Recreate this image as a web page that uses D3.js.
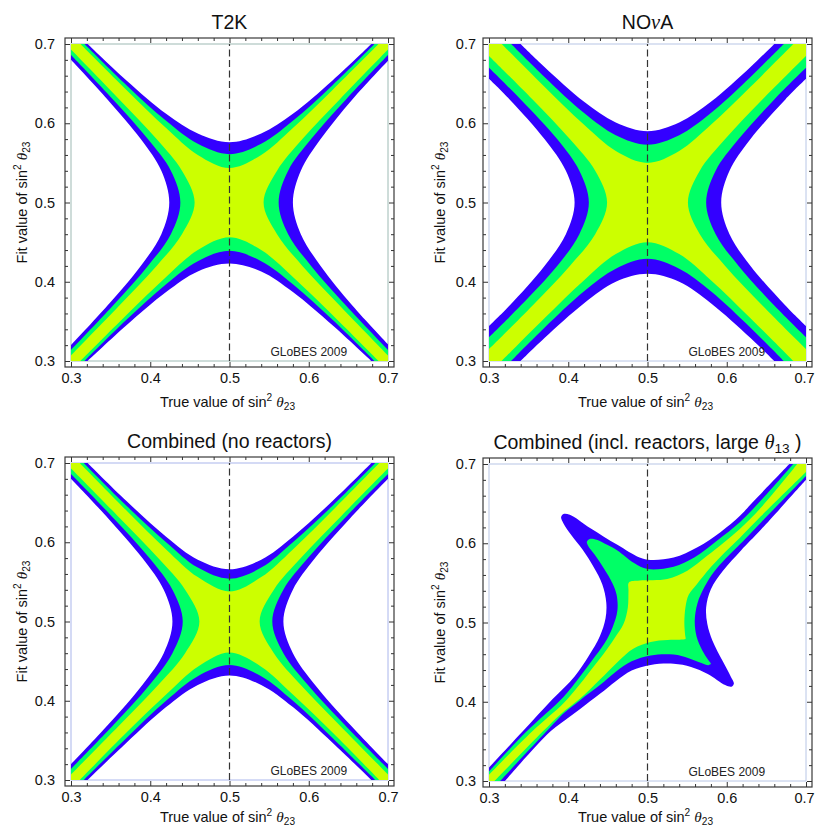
<!DOCTYPE html>
<html>
<head>
<meta charset="utf-8">
<script src="https://cdn.jsdelivr.net/npm/d3@7"></script>
<style>
  body { margin: 0; background: #fff; }
  svg { display: block; }
</style>
</head>
<body>
<script>
// allowed regions in the (true, fit) sin^2 theta23 plane
// each level: [top, right, bottom, left] boundary arcs (x = true, y = fit)

var t2kBlue = [
  [[0.321,0.7],[0.37,0.654],[0.42,0.612],[0.46,0.587],[0.5,0.576],[0.54,0.587],[0.58,0.612],[0.63,0.654],[0.679,0.7]],
  [[0.7,0.679],[0.655,0.63],[0.615,0.58],[0.59,0.54],[0.58,0.5],[0.59,0.46],[0.615,0.42],[0.655,0.37],[0.7,0.321]],
  [[0.679,0.3],[0.63,0.345],[0.58,0.387],[0.54,0.413],[0.5,0.423],[0.46,0.413],[0.42,0.387],[0.37,0.345],[0.321,0.3]],
  [[0.3,0.32],[0.346,0.37],[0.388,0.42],[0.414,0.46],[0.424,0.5],[0.414,0.54],[0.388,0.58],[0.346,0.63],[0.3,0.68]]
];
var t2kGreen = [
  [[0.317,0.7],[0.37,0.648],[0.42,0.603],[0.46,0.574],[0.5,0.561],[0.54,0.574],[0.58,0.603],[0.63,0.648],[0.683,0.7]],
  [[0.7,0.686],[0.647,0.63],[0.603,0.58],[0.574,0.54],[0.562,0.5],[0.574,0.46],[0.603,0.42],[0.647,0.37],[0.7,0.314]],
  [[0.683,0.3],[0.63,0.352],[0.58,0.397],[0.54,0.426],[0.5,0.439],[0.46,0.426],[0.42,0.397],[0.37,0.352],[0.317,0.3]],
  [[0.3,0.314],[0.353,0.37],[0.397,0.42],[0.426,0.46],[0.438,0.5],[0.426,0.54],[0.397,0.58],[0.353,0.63],[0.3,0.686]]
];
var t2kYellow = [
  [[0.312,0.7],[0.37,0.642],[0.42,0.594],[0.46,0.56],[0.5,0.5435],[0.54,0.56],[0.58,0.594],[0.63,0.642],[0.688,0.7]],
  [[0.7,0.693],[0.639,0.63],[0.592,0.58],[0.56,0.54],[0.543,0.5],[0.56,0.46],[0.592,0.42],[0.639,0.37],[0.7,0.307]],
  [[0.688,0.3],[0.63,0.358],[0.58,0.406],[0.54,0.44],[0.5,0.456],[0.46,0.44],[0.42,0.406],[0.37,0.358],[0.312,0.3]],
  [[0.3,0.307],[0.361,0.37],[0.408,0.42],[0.44,0.46],[0.456,0.5],[0.44,0.54],[0.408,0.58],[0.361,0.63],[0.3,0.693]]
];

var novaBlue = [
  [[0.34,0.7],[0.37,0.671],[0.42,0.627],[0.46,0.601],[0.5,0.59],[0.54,0.601],[0.58,0.627],[0.63,0.671],[0.66,0.7]],
  [[0.7,0.656],[0.674,0.63],[0.63,0.58],[0.6035,0.54],[0.593,0.5],[0.6035,0.46],[0.63,0.42],[0.674,0.37],[0.7,0.344]],
  [[0.66,0.3],[0.63,0.329],[0.58,0.373],[0.54,0.4],[0.5,0.41],[0.46,0.4],[0.42,0.373],[0.37,0.329],[0.34,0.3]],
  [[0.3,0.344],[0.326,0.37],[0.37,0.42],[0.397,0.46],[0.408,0.5],[0.397,0.54],[0.37,0.58],[0.326,0.63],[0.3,0.656]]
];
var novaGreen = [
  [[0.328,0.7],[0.37,0.6585],[0.42,0.613],[0.46,0.585],[0.5,0.573],[0.54,0.585],[0.58,0.613],[0.63,0.6585],[0.672,0.7]],
  [[0.7,0.67],[0.66,0.63],[0.615,0.58],[0.586,0.54],[0.574,0.5],[0.586,0.46],[0.615,0.42],[0.66,0.37],[0.7,0.33]],
  [[0.672,0.3],[0.63,0.342],[0.58,0.388],[0.54,0.4165],[0.5,0.429],[0.46,0.4165],[0.42,0.388],[0.37,0.342],[0.328,0.3]],
  [[0.3,0.33],[0.34,0.37],[0.386,0.42],[0.414,0.46],[0.426,0.5],[0.414,0.54],[0.386,0.58],[0.34,0.63],[0.3,0.67]]
];
var novaYellow = [
  [[0.316,0.7],[0.37,0.646],[0.42,0.598],[0.46,0.565],[0.5,0.55],[0.54,0.565],[0.58,0.598],[0.63,0.646],[0.684,0.7]],
  [[0.7,0.685],[0.645,0.63],[0.598,0.58],[0.566,0.54],[0.551,0.5],[0.566,0.46],[0.598,0.42],[0.645,0.37],[0.7,0.315]],
  [[0.684,0.3],[0.63,0.354],[0.58,0.402],[0.54,0.435],[0.5,0.45],[0.46,0.435],[0.42,0.402],[0.37,0.354],[0.316,0.3]],
  [[0.3,0.315],[0.355,0.37],[0.402,0.42],[0.434,0.46],[0.449,0.5],[0.434,0.54],[0.402,0.58],[0.355,0.63],[0.3,0.685]]
];

var combBlue = [
  [[0.321,0.7],[0.37,0.652],[0.42,0.607],[0.46,0.578],[0.5,0.566],[0.54,0.578],[0.58,0.607],[0.63,0.652],[0.679,0.7]],
  [[0.7,0.68],[0.652,0.63],[0.608,0.58],[0.58,0.54],[0.568,0.5],[0.58,0.46],[0.608,0.42],[0.652,0.37],[0.7,0.32]],
  [[0.679,0.3],[0.63,0.347],[0.58,0.392],[0.54,0.42],[0.5,0.432],[0.46,0.42],[0.42,0.392],[0.37,0.347],[0.321,0.3]],
  [[0.3,0.32],[0.347,0.37],[0.39,0.42],[0.417,0.46],[0.428,0.5],[0.417,0.54],[0.39,0.58],[0.347,0.63],[0.3,0.68]]
];
var combGreen = [
  [[0.316,0.7],[0.37,0.646],[0.42,0.6],[0.46,0.568],[0.5,0.554],[0.54,0.568],[0.58,0.6],[0.63,0.646],[0.684,0.7]],
  [[0.7,0.686],[0.645,0.63],[0.599,0.58],[0.568,0.54],[0.554,0.5],[0.568,0.46],[0.599,0.42],[0.645,0.37],[0.7,0.314]],
  [[0.684,0.3],[0.63,0.353],[0.58,0.4],[0.54,0.431],[0.5,0.445],[0.46,0.431],[0.42,0.4],[0.37,0.353],[0.316,0.3]],
  [[0.3,0.314],[0.354,0.37],[0.399,0.42],[0.428,0.46],[0.441,0.5],[0.428,0.54],[0.399,0.58],[0.354,0.63],[0.3,0.686]]
];
var combYellow = [
  [[0.311,0.7],[0.37,0.64],[0.42,0.591],[0.46,0.556],[0.5,0.538],[0.54,0.556],[0.58,0.591],[0.63,0.64],[0.689,0.7]],
  [[0.7,0.693],[0.638,0.63],[0.59,0.58],[0.556,0.54],[0.538,0.5],[0.556,0.46],[0.59,0.42],[0.638,0.37],[0.7,0.307]],
  [[0.689,0.3],[0.63,0.36],[0.58,0.408],[0.54,0.443],[0.5,0.461],[0.46,0.443],[0.42,0.408],[0.37,0.36],[0.311,0.3]],
  [[0.3,0.307],[0.362,0.37],[0.41,0.42],[0.444,0.46],[0.462,0.5],[0.444,0.54],[0.41,0.58],[0.362,0.63],[0.3,0.693]]
];

// incl. reactors: [upper/left boundary, lower/right boundary]
var reacBlue = [
  [[0.3,0.317],[0.342,0.362],[0.38,0.403],[0.408,0.432],[0.426,0.458],[0.44,0.483],[0.447,0.505],[0.448,0.525],[0.443,0.548],[0.432,0.57],[0.418,0.592],[0.404,0.61],[0.394,0.625],[0.391,0.633],[0.394,0.637],[0.402,0.636],[0.428,0.619],[0.462,0.598],[0.49,0.582],[0.504,0.579],[0.533,0.582],[0.563,0.595],[0.592,0.614],[0.617,0.635],[0.633,0.652],[0.679,0.7]],
  [[0.7,0.68],[0.643,0.617],[0.618,0.591],[0.595,0.565],[0.58,0.542],[0.574,0.519],[0.5755,0.498],[0.582,0.477],[0.595,0.451],[0.605,0.432],[0.609,0.423],[0.606,0.419],[0.598,0.421],[0.576,0.435],[0.555,0.444],[0.533,0.448],[0.504,0.4465],[0.48,0.4395],[0.46,0.426],[0.44,0.41],[0.415,0.391],[0.395,0.376],[0.377,0.362],[0.32,0.3]]
];
var reacGreen = [
  [[0.3,0.312],[0.347,0.362],[0.394,0.406],[0.412,0.428],[0.43,0.452],[0.446,0.474],[0.456,0.494],[0.462,0.515],[0.461,0.535],[0.456,0.549],[0.445,0.568],[0.433,0.586],[0.425,0.597],[0.4235,0.602],[0.427,0.6055],[0.436,0.6045],[0.449,0.598],[0.462,0.591],[0.483,0.575],[0.5,0.5675],[0.533,0.5705],[0.559,0.582],[0.588,0.6035],[0.6165,0.6265],[0.645,0.656],[0.684,0.7]],
  [[0.7,0.685],[0.643,0.626],[0.617,0.599],[0.598,0.58],[0.584,0.564],[0.572,0.545],[0.563,0.524],[0.5596,0.502],[0.562,0.482],[0.569,0.465],[0.5765,0.453],[0.58,0.4478],[0.577,0.4462],[0.568,0.449],[0.552,0.455],[0.533,0.4595],[0.504,0.4585],[0.48,0.451],[0.46,0.438],[0.44,0.421],[0.415,0.402],[0.395,0.386],[0.372,0.362],[0.314,0.3]]
];
var reacYellow = [
  [[0.3,0.308],[0.354,0.362],[0.394,0.398],[0.4105,0.417],[0.427,0.438],[0.444,0.4595],[0.459,0.481],[0.4697,0.498],[0.4752,0.519],[0.476,0.54],[0.4765,0.5505],[0.49,0.553],[0.525,0.555],[0.5503,0.5654],[0.5756,0.5844],[0.6165,0.618],[0.645,0.647],[0.689,0.7]],
  [[0.7,0.69],[0.643,0.634],[0.617,0.6074],[0.598,0.589],[0.58,0.57],[0.562,0.548],[0.552,0.535],[0.548,0.52],[0.5465,0.5],[0.5475,0.484],[0.548,0.4795],[0.544,0.4785],[0.525,0.478],[0.504,0.4755],[0.482,0.467],[0.462,0.45],[0.44,0.428],[0.415,0.404],[0.39,0.384],[0.3675,0.362],[0.307,0.3]]
];

var majorTicks = [0.3, 0.4, 0.5, 0.6, 0.7];
var minorTicks = [0.32,0.34,0.36,0.38,0.42,0.44,0.46,0.48,0.52,0.54,0.56,0.58,0.62,0.64,0.66,0.68];
var maxMixing = 0.5;
var credit = "GLoBES 2009";

var titles = [
  [["T2K"]],
  [["NO"], ["\u03bd", "it"], ["A"]],
  [["Combined (no reactors)"]],
  [["Combined (incl. reactors, large "], ["\u03b8", "it"], ["13", "sub"], [" )"]]
];
var xTitle = [["True value of sin"], ["2", "sup"], [" "], ["\u03b8", "it"], ["23", "sub"]];
var yTitle = [["Fit value of sin"], ["2", "sup"], [" "], ["\u03b8", "it"], ["23", "sub"]];

var levels = [
  [t2kBlue, t2kGreen, t2kYellow],
  [novaBlue, novaGreen, novaYellow],
  [combBlue, combGreen, combYellow],
  [reacBlue, reacGreen, reacYellow]
];

// layout
var width = 815, height = 828;
var side = 317, pad = 6;
var panelLeft = [71, 489, 71, 489];
var panelTop = [44, 44, 463, 464];
var labelPad = [10, 7, 10, 7];
var xTitleGap = [46, 46, 42, 41];
var borderColor = ["#9dbab4", "#b8c6e6", "#aab6ec", "#b8c6e6"];
var levelColors = ["#3300ff", "#00ff66", "#ccff00"];
var sans = "'Liberation Sans', Arial, Helvetica, sans-serif";
var serif = "'Liberation Serif', 'Times New Roman', serif";

var svg = d3.select("body").append("svg")
    .attr("width", width)
    .attr("height", height)
    .attr("font-family", sans)

var x = d3.scaleLinear().domain([0.3, 0.7]).range([0, side])
var y = d3.scaleLinear().domain([0.3, 0.7]).range([side, 0])

var curve = d3.line()
    .x(function(d) { return x(d[0]) })
    .y(function(d) { return y(d[1]) })
    .curve(d3.curveCatmullRom.alpha(0.5))

// arcs joined by straight runs along the plot edges
function regionPath(parts) {
    return parts.map(function(pts, i) {
        var s = pts.length > 1 ? curve(pts) : "M" + x(pts[0][0]) + "," + y(pts[0][1]);
        return i ? "L" + s.slice(1) : s;
    }).join("") + "Z";
}

function crossShape(s) {
    return [s[0], [[0.7, 0.7]], s[1], [[0.7, 0.3]], s[2], [[0.3, 0.3]], s[3], [[0.3, 0.7]]];
}

function bandShape(s) {
    return [s[0], [[0.7, 0.7]], s[1], [[0.3, 0.3]]];
}

function richText(sel, parts, size) {
    var shift = 0;
    parts.forEach(function(p) {
        var t = sel.append("tspan").text(p[0]);
        var target = 0;
        if (p[1] == "sup") { target = -0.42 * size; t.attr("font-size", size * 0.7) }
        if (p[1] == "sub") { target = 0.22 * size; t.attr("font-size", size * 0.7) }
        if (p[1] == "it") t.attr("font-family", serif).attr("font-style", "italic").attr("font-size", size * 1.05);
        if (target != shift) { t.attr("dy", target - shift); shift = target }
    });
}

levels.forEach(function(lv, i) {
    var g = svg.append("g")
        .attr("transform", "translate(" + panelLeft[i] + "," + panelTop[i] + ")")

    g.append("clipPath").attr("id", "clip" + i)
        .append("rect").attr("width", side).attr("height", side)

    g.append("rect")
        .attr("width", side).attr("height", side)
        .attr("fill", "none")
        .attr("stroke", borderColor[i])
        .attr("stroke-width", 1)

    var shape = i == 3 ? bandShape : crossShape;
    g.append("g").attr("clip-path", "url(#clip" + i + ")")
        .selectAll("path")
        .data(lv)
        .join("path")
        .attr("d", function(d) { return regionPath(shape(d)) })
        .attr("fill", function(d, k) { return levelColors[k] })

    g.append("line")
        .attr("x1", x(maxMixing)).attr("x2", x(maxMixing))
        .attr("y1", y(0.3)).attr("y2", y(0.7))
        .attr("stroke", "#333")
        .attr("stroke-width", 1.2)
        .attr("stroke-dasharray", "7,3.5")

    g.append("text")
        .attr("x", x(0.6)).attr("y", y(0.3) - 5)
        .attr("text-anchor", "middle")
        .attr("font-size", 12)
        .attr("fill", "#222")
        .text(credit)

    // outer frame with inward ticks
    g.append("rect")
        .attr("x", -pad).attr("y", -pad)
        .attr("width", side + 2 * pad).attr("height", side + 2 * pad)
        .attr("fill", "none")
        .attr("stroke", "#3a3a3a")
        .attr("stroke-width", 1.2)

    var axes = [
        [d3.axisBottom(x), "translate(0," + (side + pad) + ")", true],
        [d3.axisTop(x), "translate(0," + (-pad) + ")", false],
        [d3.axisLeft(y), "translate(" + (-pad) + ",0)", true],
        [d3.axisRight(y), "translate(" + (side + pad) + ",0)", false]
    ];
    axes.forEach(function(a, k) {
        var major = a[0].tickValues(majorTicks).tickSize(-5)
            .tickPadding(k == 0 ? 6 : labelPad[i])
            .tickFormat(a[2] ? d3.format(".1f") : "");
        var ag = g.append("g").attr("transform", a[1]).call(major);
        ag.select(".domain").remove();
        ag.attr("font-size", 14.5).attr("font-family", sans).attr("color", "#333");
        ag.selectAll("text").attr("fill", "#111");
        // last label of the right-hand panels sits against the page edge
        if (k == 0 && i % 2 == 1) ag.selectAll("text").filter(function(d) { return d == 0.7 }).attr("dx", -2);
        var minor = a[0].tickValues(minorTicks).tickSize(-3).tickFormat("");
        var mg = g.append("g").attr("transform", a[1]).call(minor);
        mg.select(".domain").remove();
        mg.attr("color", "#333");
    });

    var t = g.append("text")
        .attr("x", side / 2).attr("y", -15)
        .attr("text-anchor", "middle")
        .attr("font-size", 19.5)
        .attr("fill", "#111")
    richText(t, titles[i], 19.5)

    var xt = g.append("text")
        .attr("x", side / 2 - 2).attr("y", side + xTitleGap[i])
        .attr("text-anchor", "middle")
        .attr("font-size", 14.5)
        .attr("fill", "#111")
    richText(xt, xTitle, 14.5)

    var yt = g.append("text")
        .attr("transform", "translate(-44," + (side / 2) + ") rotate(-90)")
        .attr("text-anchor", "middle")
        .attr("font-size", 14.5)
        .attr("fill", "#111")
    richText(yt, yTitle, 14.5)
});
</script>
</body>
</html>
